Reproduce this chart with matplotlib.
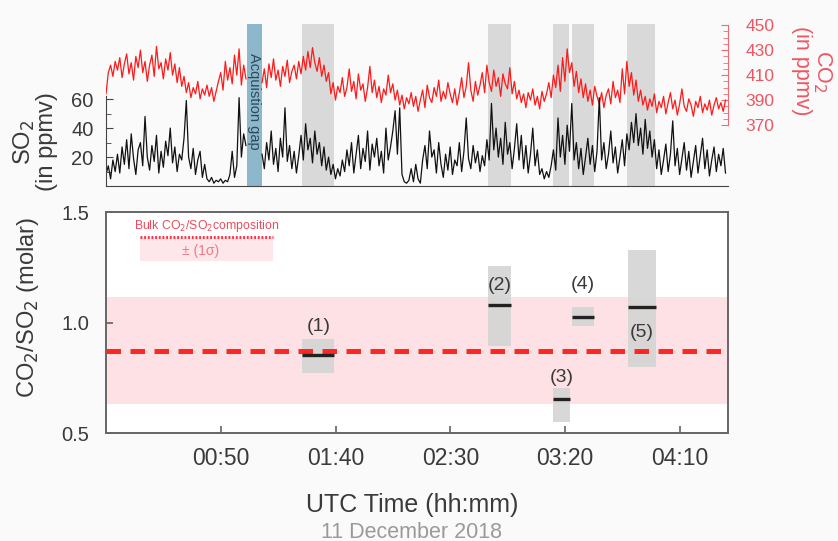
import numpy as np
import matplotlib
matplotlib.use("Agg")
from matplotlib import pyplot as plt
from matplotlib.ticker import MultipleLocator, FixedLocator

plt.rcParams['font.family'] = ['Liberation Sans', 'DejaVu Sans']

nan = np.nan

# minutes after 00:00 UTC, one sample per minute, gap at 62-67
co2 = [395, 412, 418, 409, 421, 414, 424, 408, 419, 427,
       411, 420, 406, 425, 416, 430, 412, 421, 405, 418,
       426, 409, 433, 415, 420, 407, 423, 414, 428, 410,
       419, 404, 416, 401, 409, 396, 404, 392, 400, 395,
       405, 391, 399, 394, 402, 393, 400, 389, 397, 405,
       412, 398, 421, 406, 416, 403, 426, 410, 431, 402,
       418, 407, nan, nan, nan, nan, nan, nan,
       404, 415, 400, 419, 408, 423, 406, 414, 401, 417,
       409, 422, 404, 413, 418, 407, 421, 411, 425, 414,
       429, 416, 432, 420, 413, 424, 409, 418, 405, 412,
       395, 404, 390, 401, 396, 408, 393, 400, 415, 397,
       405, 391, 411, 398, 403, 389, 400, 417, 396, 406,
       392, 401, 388, 399, 394, 410, 396, 403, 390, 398,
       386, 394, 383, 392, 387, 396, 385, 393, 381, 390,
       398, 384, 402, 392, 388, 400, 393, 406, 389, 397,
       391, 404, 395, 388, 399, 386, 396, 408, 392, 401,
       420, 398, 389, 405, 394, 402, 412, 396, 418, 404,
       397, 414, 401, 408, 393, 411, 403, 399, 416, 395,
       405, 391, 398, 388, 395, 384, 396, 390, 399, 386,
       393, 383, 397, 389, 395, 404, 392, 410, 400, 418,
       397, 424, 405, 431, 412, 420, 401, 413, 396, 407,
       392, 403, 389, 398, 386, 401, 393, 387, 396, 384,
       394, 399, 387, 405, 392, 398, 388, 415, 395, 421,
       401, 412, 394, 406, 389, 398, 386, 393, 382, 391,
       385, 395, 380, 389, 384, 393, 379, 388, 396, 383,
       390, 378, 387, 399, 385, 381, 391, 386, 377, 389,
       384, 393, 380, 387, 382, 390, 378, 386, 392, 383,
       388, 381, 390]

so2 = [8, 14, 5, 18, 10, 22, 9, 27, 15, 32,
       12, 36, 19, 8, 25, 30, 14, 48, 20, 11,
       28, 17, 35, 9, 24, 13, 31, 21, 40, 16,
       27, 10, 22, 18, 33, 59, 20, 12, 26, 8,
       18, 24, 6, 15, 5, 3, 6, 2, 4, 3,
       5, 2, 4, 3, 8, 24, 6, 14, 61, 20,
       36, 28, nan, nan, nan, nan, nan, nan,
       22, 12, 30, 18, 38, 15, 26, 10, 33, 20,
       54, 17, 28, 12, 24, 9, 21, 35, 18, 43,
       25, 33, 16, 38, 22, 30, 14, 27, 11, 20,
       8, 15, 5, 12, 7, 18, 10, 25, 14, 30,
       9, 22, 35, 12, 26, 17, 38, 11, 29, 20,
       33, 14, 24, 9, 40, 18, 27, 38, 52, 22,
       54, 8, 3, 2, 4, 12, 3, 15, 5, 2,
       18, 28, 12, 38, 20, 25, 9, 30, 15, 6,
       22, 11, 27, 8, 18, 14, 30, 10, 24, 47,
       19, 12, 28, 16, 24, 10, 21, 14, 32, 18,
       57, 25, 40, 20, 33, 15, 44, 22, 30, 12,
       26, 43, 18, 35, 12, 28, 9, 22, 40, 14,
       25, 8, 12, 5, 10, 6, 14, 25, 11, 47,
       20, 35, 15, 42, 24, 57, 18, 30, 12, 26,
       8, 20, 33, 15, 28, 10, 24, 61, 18, 30,
       12, 22, 38, 16, 27, 9, 20, 32, 14, 36,
       25, 44, 30, 50, 28, 40, 22, 46, 26, 38,
       20, 32, 12, 25, 8, 18, 29, 10, 22, 45,
       14, 26, 8, 19, 30, 11, 24, 6, 17, 28,
       9, 21, 33, 12, 25, 7, 18, 27, 10, 22,
       14, 26, 9]

minutes = np.arange(len(co2))

gap_start, gap_end = 61.3, 67.8
win_start = [85.5, 166.5, 194.7, 202.9, 227.2]
win_end = [99.5, 176.5, 202.0, 212.5, 239.4]

ratio_lo = [0.773, 0.895, 0.55, 0.982, 0.80]
ratio_hi = [0.927, 1.255, 0.705, 1.068, 1.327]
ratio_mid = [0.855, 1.079, 0.655, 1.023, 1.068]
win_labels = ["(1)", "(2)", "(3)", "(4)", "(5)"]
label_x = [92.6, 171.5, 198.4, 207.5, 233.5]
label_y = [0.98, 1.168, 0.75, 1.173, 0.955]

bulk = 0.873
bulk_sd = 0.241

tick_pos = [50, 100, 150, 200, 250]
tick_lab = ["00:50", "01:40", "02:30", "03:20", "04:10"]

red_txt = '#ee5662'
dark = '#3a3a3a'

fig = plt.figure(figsize=(8.38, 5.41), dpi=100, facecolor='#fafafa')

# ---- top panel
ax_c = fig.add_axes([0.1265, 0.656, 0.742, 0.2994])
ax_s = ax_c.twinx()
ax_s.yaxis.tick_left()
ax_c.yaxis.tick_right()
ax_c.set_zorder(1)
ax_s.set_zorder(2)
ax_c.patch.set_visible(False)
ax_s.patch.set_visible(False)

for a, b in zip(win_start, win_end):
    ax_c.axvspan(a, b, color='#d9d9d9', lw=0, zorder=0)
ax_c.axvspan(gap_start, gap_end, color='#8db7cb', lw=0, zorder=0)
ax_c.text((gap_start + gap_end) / 2, 428, "Acquistion gap", rotation=270,
          ha='center', va='top', fontsize=10.5, color='#2c4a5a', zorder=1)

ax_c.plot(minutes, co2, color='#ff1a1a', lw=0.9, zorder=2)
ax_s.plot(minutes, so2, color='#111111', lw=0.9)

ax_c.set_xlim(0, 271)
ax_c.set_ylim(321.2, 450.8)
ax_s.set_ylim(0, 111.7)

for sp in ['top', 'left', 'bottom']:
    ax_c.spines[sp].set_visible(False)
ax_c.spines['right'].set_bounds(370, 450)
ax_c.spines['right'].set_color('#f06a74')
ax_c.set_yticks([370, 390, 410, 430, 450])
ax_c.yaxis.set_minor_locator(FixedLocator(np.arange(375, 450, 5)))
ax_c.tick_params(axis='y', which='both', direction='in', colors='#f06a74',
                 labelcolor=red_txt, labelsize=12.5, pad=13, length=5)
ax_c.tick_params(axis='y', which='minor', length=3.5)
ax_c.tick_params(axis='x', bottom=False, labelbottom=False)

ax_s.spines['top'].set_visible(False)
ax_s.spines['right'].set_visible(False)
ax_s.spines['left'].set_bounds(0, 62)
ax_s.spines['left'].set_color('#444444')
ax_s.spines['bottom'].set_color('#444444')
ax_s.set_yticks([20, 40, 60])
ax_s.yaxis.set_minor_locator(FixedLocator([10, 30, 50]))
ax_s.tick_params(axis='y', which='both', direction='in', colors='#444444',
                 labelcolor=dark, labelsize=14.5, pad=9, length=5)
ax_s.tick_params(axis='y', which='minor', length=3.5)
ax_s.tick_params(axis='x', bottom=False, labelbottom=False)

fig.text(0.042, 0.7375, "SO$_2$\n(in ppmv)", rotation=90, ha='center',
         va='center', fontsize=17, color=dark, linespacing=0.95)
fig.text(0.969, 0.869, "CO$_2$\n(in ppmv)", rotation=270, ha='center',
         va='center', fontsize=15.5, color=red_txt, linespacing=0.95)

# ---- bottom panel
ax = fig.add_axes([0.1265, 0.1996, 0.7425, 0.4085], facecolor='white')
ax.axhspan(bulk - bulk_sd, bulk + bulk_sd, color='#fde1e5', lw=0, zorder=0)
ax.axhline(bulk, color='#ff2626', lw=3.6, dashes=(2.9, 1.9), zorder=3)

for a, b, lo, hi, m in zip(win_start, win_end, ratio_lo, ratio_hi, ratio_mid):
    ax.fill_between([a, b], lo, hi, color='#d4d4d4', alpha=0.9, lw=0, zorder=1)
    ax.plot([a, b], [m, m], color='#222222', lw=2.4, solid_capstyle='butt',
            zorder=4)
for lx, ly, t in zip(label_x, label_y, win_labels):
    ax.text(lx, ly, t, ha='center', va='center', fontsize=14, color=dark,
            zorder=5)

# legend box
ax.fill_between([14.9, 72.6], 1.277, 1.386, color='#fde7ea', lw=0, zorder=1)
ax.plot([14.9, 72.6], [1.386, 1.386], color='#ff3347', lw=2.2, ls=(0, (0.6, 0.6)),
        zorder=2)
ax.text(43.7, 1.438, "Bulk CO$_2$/SO$_2$composition", ha='center', va='center',
        fontsize=8.8, color='#f04a5c')
ax.text(41.0, 1.325, "± (1σ)", ha='center', va='center', fontsize=10,
        color='#f27a86')

ax.set_xlim(0, 271)
ax.set_ylim(0.5, 1.5)
ax.set_yticks([0.5, 1.0, 1.5])
ax.set_yticklabels(["0.5", "1.0", "1.5"])
ax.set_xticks(tick_pos)
ax.set_xticklabels(tick_lab)
ax.tick_params(direction='in', length=5, colors='#555555', labelcolor=dark,
               width=1.1)
ax.tick_params(axis='x', labelsize=16.5, pad=10)
ax.tick_params(axis='y', labelsize=14.5, pad=12)
for sp in ax.spines.values():
    sp.set_color('#666666')
    sp.set_linewidth(1.4)

fig.text(0.034, 0.431, "CO$_2$/SO$_2$ (molar)", rotation=90, ha='center',
         va='center', fontsize=17, color=dark)
fig.text(0.4916, 0.0665, "UTC Time (hh:mm)", ha='center', va='center',
         fontsize=18, color=dark)
fig.text(0.4905, 0.0166, "11 December 2018", ha='center', va='center',
         fontsize=15.5, color='#9a9a9a')

fig.savefig("out.png", dpi=100, facecolor=fig.get_facecolor())
